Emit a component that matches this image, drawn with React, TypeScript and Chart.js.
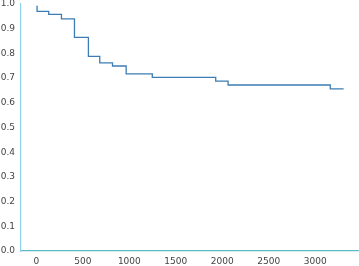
import React, { useEffect, useRef } from "react";
import { Chart, registerables } from "chart.js";

Chart.register(...registerables);

const times = [0, 8, 133, 270, 410, 560, 682, 819, 966, 1247, 1929, 2062, 3161, 3305];
const survival = [0.99, 0.97, 0.958, 0.94, 0.865, 0.788, 0.762, 0.749, 0.717, 0.703, 0.688, 0.672, 0.656, 0.656];
const xTicks = [0, 500, 1000, 1500, 2000, 2500, 3000];
const yTicks = [0.0, 0.1, 0.2, 0.3, 0.4, 0.5, 0.6, 0.7, 0.8, 0.9, 1.0];

export default function App() {
  const ref = useRef<HTMLCanvasElement>(null);
  useEffect(() => {
    document.body.style.margin = "0";
    const ctx = ref.current!;
    const chart = new Chart(ctx, {
      type: "line",
      data: {
        datasets: [
          {
            data: times.map((t, i) => ({ x: t, y: survival[i] })),
            borderColor: "#3b7db4",
            borderWidth: 1.3,
            pointRadius: 0,
            stepped: "before",
            fill: false,
          },
        ],
      },
      options: {
        animation: false,
        responsive: false,
        maintainAspectRatio: false,
        layout: { padding: { top: 4, right: 0, left: 0, bottom: 0 } },
        plugins: { legend: { display: false }, tooltip: { enabled: false } },
        scales: {
          x: {
            type: "linear",
            min: -165,
            max: 3470,
            afterBuildTicks: (s: any) => {
              s.ticks = xTicks.map((v) => ({ value: v }));
            },
            afterFit: (s: any) => {
              s.height = 15;
              s.paddingLeft = 0;
              s.paddingRight = 0;
            },
            grid: { display: false, drawTicks: false },
            border: { display: true, color: "#5bbcc8", width: 1.2 },
            ticks: {
              padding: 5,
              color: "#444",
              font: { family: "DejaVu Sans", size: 9 },
              maxRotation: 0,
              callback: (v: any) => String(v),
            },
          },
          y: {
            type: "linear",
            min: 0,
            max: 1,
            afterBuildTicks: (s: any) => {
              s.ticks = yTicks.map((v) => ({ value: v }));
            },
            afterFit: (s: any) => {
              s.width = 21;
              s.paddingTop = 0;
              s.paddingBottom = 0;
            },
            grid: { display: false, drawTicks: false },
            border: { display: true, color: "#8fd0ea", width: 1.2 },
            ticks: {
              padding: 6,
              color: "#444",
              font: { family: "DejaVu Sans", size: 9 },
              callback: (v: any) => Number(v).toFixed(1),
            },
          },
        },
      },
    });
    return () => chart.destroy();
  }, []);
  return <canvas ref={ref} width={359} height={266} style={{ display: "block" }} />;
}
